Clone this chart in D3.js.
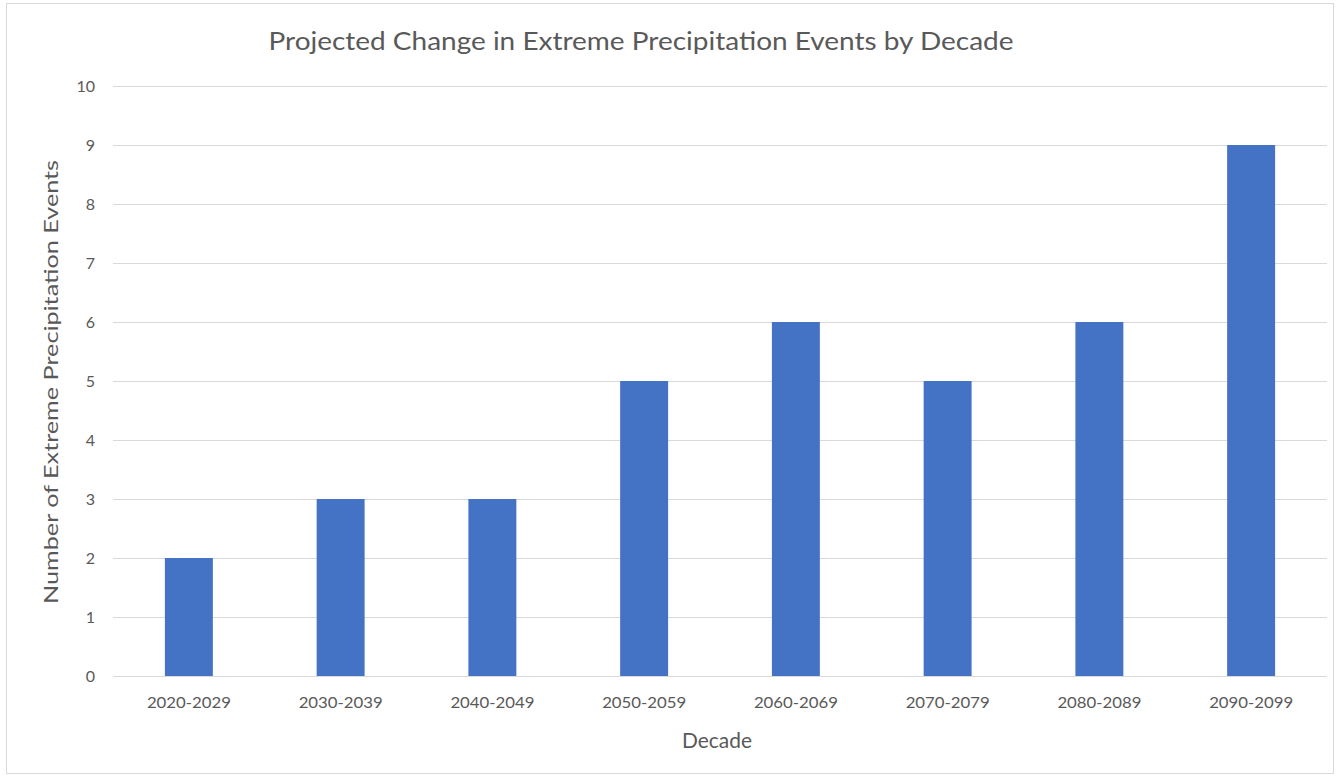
<!DOCTYPE html>
<html>
<head>
<meta charset="utf-8">
<script src="https://cdn.jsdelivr.net/npm/d3@7"></script>
<style>
  html, body { margin: 0; padding: 0; background: #fff; }
  svg { display: block; }
</style>
</head>
<body>
<svg id="chart" width="1339" height="781"></svg>
<script>
// Extreme precipitation events per decade
const decades = ["2020-2029", "2030-2039", "2040-2049", "2050-2059", "2060-2069", "2070-2079", "2080-2089", "2090-2099"];
const events = [2, 3, 3, 5, 6, 5, 6, 9];
const yTicks = [0, 1, 2, 3, 4, 5, 6, 7, 8, 9, 10];

const titleText = "Projected Change in Extreme Precipitation Events by Decade";
const xTitle = "Decade";
const yTitle = "Number of Extreme Precipitation Events";

const svg = d3.select("#chart");
const font = "Lato, 'Open Sans', sans-serif";
const textColor = "#595959";

// outer frame
svg.append("rect")
  .attr("x", 6.5).attr("y", 3.5)
  .attr("width", 1327).attr("height", 770)
  .attr("fill", "#fff")
  .attr("stroke", "#d9d9d9").attr("stroke-width", 1);

const plot = { left: 113, right: 1327, top: 86, bottom: 676 };

const x = d3.scaleBand()
  .domain(decades)
  .range([plot.left, plot.right])
  .paddingInner(0.684)
  .paddingOuter(0.342);

const y = d3.scaleLinear()
  .domain([0, 10])
  .range([plot.bottom, plot.top]);

// gridlines + y tick labels
const yAxis = d3.axisLeft(y)
  .tickValues(yTicks)
  .tickSize(-(plot.right - plot.left))
  .tickPadding(18)
  .tickFormat(d3.format("d"));

const gy = svg.append("g")
  .attr("transform", `translate(${plot.left},0)`)
  .call(yAxis);
gy.select(".domain").remove();
gy.selectAll(".tick line").attr("stroke", "#d9d9d9").attr("stroke-width", 1);
gy.selectAll(".tick text")
  .attr("fill", textColor)
  .style("font-family", font)
  .style("font-size", "16px");

// bars
svg.append("g")
  .selectAll("rect")
  .data(decades)
  .join("rect")
  .attr("x", d => x(d))
  .attr("y", (d, i) => y(events[i]))
  .attr("width", x.bandwidth())
  .attr("height", (d, i) => y(0) - y(events[i]))
  .attr("fill", "#4472C4");

// x axis labels
const xAxis = d3.axisBottom(x).tickSize(0).tickPadding(21);
const gx = svg.append("g")
  .attr("transform", `translate(0,${plot.bottom})`)
  .call(xAxis);
gx.select(".domain").remove();
gx.selectAll(".tick text")
  .attr("fill", textColor)
  .attr("textLength", 84)
  .attr("lengthAdjust", "spacingAndGlyphs")
  .style("font-family", font)
  .style("font-size", "16px");

// baseline
svg.append("line")
  .attr("x1", plot.left).attr("x2", plot.right)
  .attr("y1", y(0) + 0.5).attr("y2", y(0) + 0.5)
  .attr("stroke", "#d9d9d9");

// chart title
svg.append("text")
  .attr("x", 641).attr("y", 50)
  .attr("text-anchor", "middle")
  .attr("fill", textColor)
  .attr("textLength", 745)
  .attr("lengthAdjust", "spacingAndGlyphs")
  .style("font-family", font)
  .style("font-size", "25px")
  .text(titleText);

// axis titles
svg.append("text")
  .attr("x", 717).attr("y", 748)
  .attr("text-anchor", "middle")
  .attr("fill", textColor)
  .attr("textLength", 70)
  .attr("lengthAdjust", "spacingAndGlyphs")
  .style("font-family", font)
  .style("font-size", "21px")
  .text(xTitle);

svg.append("text")
  .attr("transform", `translate(58,382) rotate(-90)`)
  .attr("text-anchor", "middle")
  .attr("fill", textColor)
  .attr("textLength", 444)
  .attr("lengthAdjust", "spacingAndGlyphs")
  .style("font-family", font)
  .style("font-size", "20px")
  .text(yTitle);
</script>
</body>
</html>
